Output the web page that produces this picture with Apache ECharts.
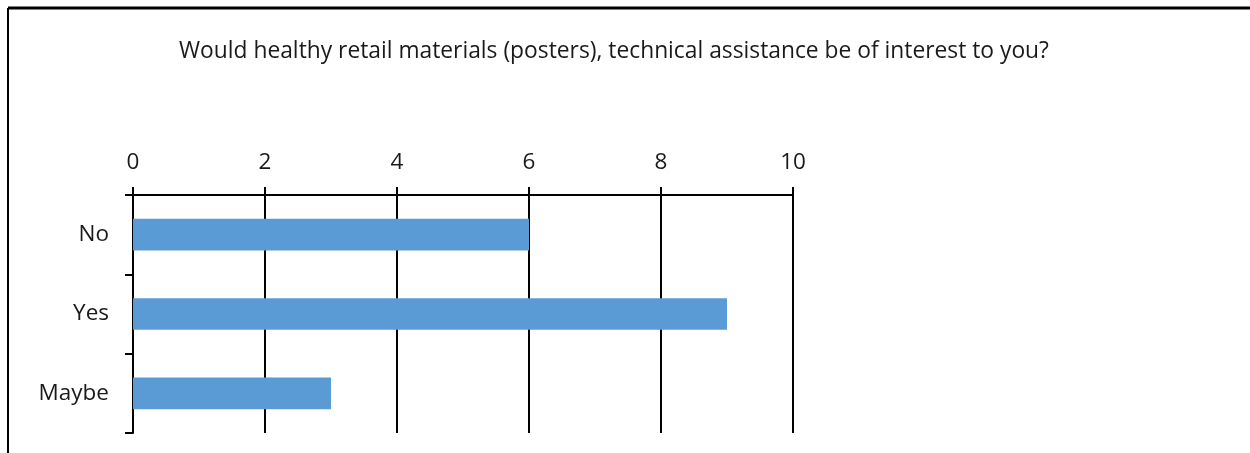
<!DOCTYPE html>
<html>
<head>
<meta charset="utf-8">
<script src="https://cdn.jsdelivr.net/npm/echarts@6/dist/echarts.min.js"></script>
<style>html,body{margin:0;padding:0;background:#fff;}#c{width:1250px;height:453px;}</style>
</head>
<body>
<div id="c"></div>
<script>
var titleText = 'Would healthy retail materials (posters), technical assistance be of interest to you?';
var categories = ['No', 'Yes', 'Maybe'];
var values = [6, 9, 3];
var xTicks = [0, 2, 4, 6, 8, 10];

var chart = echarts.init(document.getElementById('c'), null, {renderer: 'canvas'});
var font = '"Open Sans", sans-serif';
chart.setOption({
  animation: false,
  backgroundColor: '#fff',
  title: {
    text: titleText,
    left: 609, top: 35, textAlign: 'center',
    textStyle: {fontFamily: font, fontSize: 22.8, fontWeight: 'normal', color: '#1a1a1a'}
  },
  graphic: [
    {type: 'line', shape: {x1: 8, y1: 8, x2: 1250, y2: 8}, style: {stroke: '#000', lineWidth: 3}},
    {type: 'line', shape: {x1: 8, y1: 8, x2: 8, y2: 453}, style: {stroke: '#000', lineWidth: 2}}
  ],
  grid: {left: 133, right: 457, top: 195, bottom: 20, containLabel: false},
  xAxis: {
    type: 'value', position: 'top', min: xTicks[0], max: xTicks[xTicks.length - 1], interval: 2,
    axisLine: {show: true, lineStyle: {color: '#000', width: 2}},
    axisTick: {show: true, length: 8, lineStyle: {color: '#000', width: 2}},
    axisLabel: {margin: 21, fontFamily: font, fontSize: 22.5, color: '#1a1a1a'},
    splitLine: {show: true, lineStyle: {color: '#000', width: 2}}
  },
  yAxis: {
    type: 'category', inverse: true, data: categories,
    axisLine: {show: true, lineStyle: {color: '#000', width: 2}},
    axisTick: {show: true, length: 8, lineStyle: {color: '#000', width: 2}},
    axisLabel: {margin: 24, fontFamily: font, fontSize: 22.5, color: '#1a1a1a'},
    splitLine: {show: false}
  },
  series: [{
    type: 'bar', data: values, barWidth: '40%',
    itemStyle: {color: '#5b9bd5'}
  }]
});
</script>
</body>
</html>
